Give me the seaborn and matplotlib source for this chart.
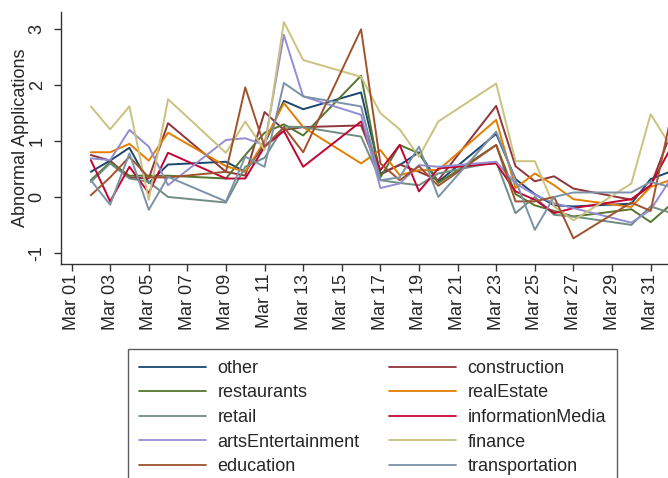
import matplotlib
matplotlib.use("Agg")
import matplotlib.pyplot as plt
import matplotlib.dates as mdates
import numpy as np
import pandas as pd
import seaborn as sns

# Business days covered by the series
dates = ["2020-03-02", "2020-03-03", "2020-03-04", "2020-03-05", "2020-03-06",
         "2020-03-09", "2020-03-10", "2020-03-11", "2020-03-12", "2020-03-13",
         "2020-03-16", "2020-03-17", "2020-03-18", "2020-03-19", "2020-03-20",
         "2020-03-23", "2020-03-24", "2020-03-25", "2020-03-26", "2020-03-27",
         "2020-03-30", "2020-03-31", "2020-04-01"]

other = [0.45, 0.65, 0.88, 0.25, 0.58, 0.63, 0.45, 0.95, 1.72, 1.57, 1.87, 0.42,
         0.57, 0.80, 0.27, 1.13, 0.32, 0.05, -0.15, -0.17, -0.12, 0.32, 0.45]
construction = [0.75, 0.65, 0.35, 0.33, 1.32, 0.45, 0.38, 1.52, 1.20, 1.25, 1.28, 0.40,
                0.58, 0.45, 0.30, 1.63, 0.55, 0.28, 0.37, 0.15, -0.05, 0.20, 1.10]
restaurants = [0.30, 0.62, 0.38, 0.38, 0.38, 0.33, 0.75, 1.15, 1.30, 1.10, 2.17, 0.35,
               0.93, 0.78, 0.25, 0.93, 0.05, -0.15, -0.25, -0.35, -0.22, -0.45, -0.15]
realEstate = [0.80, 0.80, 0.95, 0.65, 1.15, 0.55, 0.45, 1.00, 1.68, 1.25, 0.60, 0.84,
              0.39, 0.48, 0.48, 1.38, 0.16, 0.42, 0.21, -0.04, -0.18, 0.18, 0.30]
retail = [0.27, 0.60, 0.33, 0.27, 0.00, -0.10, 0.54, 0.70, 1.26, 1.25, 1.08, 0.30,
          0.25, 0.21, 0.42, 0.63, -0.29, 0.00, -0.32, -0.35, -0.50, -0.17, -0.28]
informationMedia = [0.66, -0.08, 0.54, 0.07, 0.79, 0.33, 0.33, 0.90, 1.18, 0.54, 1.35, 0.48,
                    0.93, 0.10, 0.51, 0.60, 0.10, -0.05, -0.29, -0.20, -0.04, 0.21, 0.85]
artsEntertainment = [0.69, 0.66, 1.20, 0.90, 0.21, 1.02, 1.05, 0.93, 2.90, 1.80, 1.47, 0.16,
                     0.24, 0.57, 0.54, 0.63, 0.24, 0.04, -0.11, -0.20, -0.46, -0.23, 0.30]
finance = [1.62, 1.21, 1.62, -0.05, 1.75, 0.79, 1.35, 0.84, 3.13, 2.45, 2.15, 1.50,
           1.21, 0.72, 1.35, 2.03, 0.64, 0.64, -0.17, -0.42, 0.24, 1.48, 0.93]
education = [0.03, 0.35, 0.72, 0.35, 0.35, 0.45, 1.96, 0.90, 1.25, 0.80, 3.00, 0.60,
             0.30, 0.55, 0.20, 0.93, -0.08, -0.08, 0.00, -0.74, -0.10, -0.25, 1.35]
transportation = [0.30, -0.14, 0.78, -0.23, 0.36, -0.08, 0.72, 0.54, 2.04, 1.80, 1.62, 0.30,
                  0.35, 0.90, 0.00, 1.17, 0.30, -0.59, 0.00, 0.08, 0.08, 0.27, 0.18]

sectors = ["other", "construction", "restaurants", "realEstate", "retail",
           "informationMedia", "artsEntertainment", "finance", "education", "transportation"]
series = [other, construction, restaurants, realEstate, retail,
          informationMedia, artsEntertainment, finance, education, transportation]
colors = ["#1a476f", "#90353b", "#55752f", "#e37e00", "#6e8e84",
          "#c10534", "#938dd2", "#cac27e", "#a0522d", "#7b92a8"]

df = pd.concat(
    [pd.DataFrame({"date": pd.to_datetime(dates), "value": vals, "sector": name})
     for name, vals in zip(sectors, series)],
    ignore_index=True,
)

sns.set_theme(style="white")
plt.rcParams["font.family"] = ["Liberation Sans", "DejaVu Sans"]
plt.rcParams["font.size"] = 13
plt.rcParams["axes.unicode_minus"] = False

fig = plt.figure(figsize=(6.68, 4.78), dpi=100)
ax = fig.add_axes([61 / 668, 1 - 264 / 478, 1 - 61 / 668, (264 - 12) / 478])

sns.lineplot(data=df, x="date", y="value", hue="sector", hue_order=sectors,
             palette=dict(zip(sectors, colors)), linewidth=1.4, ax=ax, legend=True)

start = pd.Timestamp("2020-03-01")
ax.set_xlim(start - pd.Timedelta(days=0.545), start + pd.Timedelta(days=30.9))
ax.set_ylim(-1.2, 3.31)

ticks = pd.date_range("2020-03-01", "2020-03-31", freq="2D")
ax.set_xticks(ticks)
ax.xaxis.set_major_formatter(mdates.DateFormatter("%b %d"))
ax.set_yticks([-1, 0, 1, 2, 3])

ax.tick_params(axis="x", rotation=90, length=5, width=1, color="#333333",
               labelsize=13, pad=2, bottom=True)
ax.tick_params(axis="y", length=5, width=1, color="#333333", labelsize=13, pad=6, left=True)
for lab in ax.get_yticklabels():
    lab.set_rotation(90)
    lab.set_va("center")

ax.set_xlabel("")
ax.set_ylabel("Abnormal Applications", fontsize=13, labelpad=0)

for side in ["top", "right"]:
    ax.spines[side].set_visible(False)
for side in ["left", "bottom"]:
    ax.spines[side].set_color("#333333")
    ax.spines[side].set_linewidth(1)

handles, labels = ax.get_legend_handles_labels()
ax.get_legend().remove()
lookup = dict(zip(labels, handles))
order = ["other", "restaurants", "retail", "artsEntertainment", "education",
         "construction", "realEstate", "informationMedia", "finance", "transportation"]
leg = fig.legend([lookup[k] for k in order], order, ncol=2, loc="upper left",
                 bbox_to_anchor=(128 / 668, 1 - 349 / 478), frameon=True,
                 fontsize=13, handlelength=3.7, handletextpad=0.65,
                 columnspacing=1.63, labelspacing=0.42, borderpad=0.6,
                 fancybox=False, borderaxespad=0)
leg.get_frame().set_edgecolor("#333333")
leg.get_frame().set_linewidth(1)
for line in leg.get_lines():
    line.set_linewidth(1.3)

fig.savefig("out.png", dpi=100)
